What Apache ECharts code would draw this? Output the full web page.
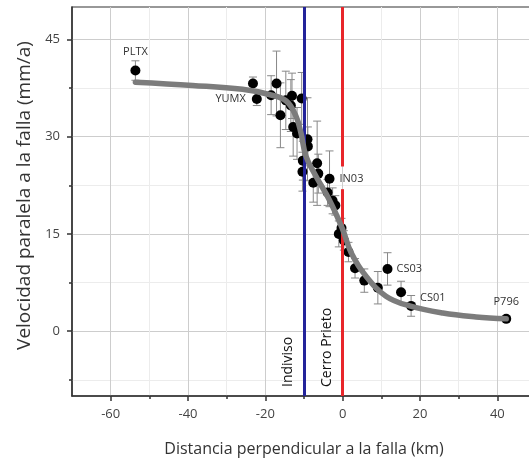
<!DOCTYPE html>
<html><head><meta charset="utf-8">
<script src="https://cdn.jsdelivr.net/npm/echarts@6/dist/echarts.min.js"></script>
<style>html,body{margin:0;padding:0;background:#fff}#c{width:529px;height:459px}</style>
</head><body><div id="c"></div>
<script>
// ---- data ----
const stationNames = ['PLTX','','YUMX','','','','','','','','','','','','','','','','','IN03','','','','','','','','','','','CS03','','CS01','P796'];
const stationX   = [-53.6,-23.2,-22.2,-18.5,-17.1,-16.1,-14.7,-13.1,-13.4,-10.6,-12.8,-11.8,-9.1,-9.0,-10.3,-10.4,-6.6,-6.3,-7.6,-3.4,-3.9,-2.6,-1.9,-0.3,-1.0,0.3,1.5,3.2,5.6,9.1,11.6,15.1,17.7,42.3];
const stationY   = [40.2,38.2,35.8,36.4,38.2,33.3,35.6,36.3,34.8,35.9,31.5,30.5,29.6,28.5,26.3,24.6,25.9,24.3,22.9,23.5,21.4,20.1,19.4,15.9,15.0,14.0,12.2,9.7,7.8,6.7,9.6,6.0,3.9,1.9];
const stationErr = [1.5,1.0,1.0,3.0,5.0,5.0,4.5,3.5,4.0,4.0,4.5,4.0,6.4,3.0,3.0,3.0,6.5,3.0,3.0,4.3,2.0,2.0,1.5,1.5,2.0,1.5,1.5,1.5,1.8,2.5,2.5,1.7,1.6,0.3];
const curveX = [-53.6,-38.8,-25.9,-19.0,-14.6,-12.1,-10.8,-9.5,-6.9,-3.4,0.0,2.2,6.0,11.2,17.3,25.9,34.5,42.3];
const curveY = [38.4,37.9,37.3,36.5,35.5,33.2,30.6,27.0,23.9,20.2,15.7,12.1,8.5,5.4,3.9,2.8,2.2,1.9];
const faultNames = ['Indiviso','Cerro Prieto'];
const faultX = [-10, 0];
const xMajorTicks = [-60,-40,-20,0,20,40];
const xMinorTicks = [-50,-30,-10,10,30];
const yMajorTicks = [0,15,30,45];
const yMinorTicks = [-7.5,7.5,22.5,37.5];
const xTitle = 'Distancia perpendicular a la falla (km)';
const yTitle = 'Velocidad paralela a la falla (mm/a)';

// ---- styles ----
const FONT = 'Open Sans';
const labelStyle = {
  PLTX: {position:'top', distance:8},
  YUMX: {position:'left', distance:6},
  IN03: {position:'right', distance:5},
  CS03: {position:'right', distance:4},
  CS01: {position:'right', distance:4, offset:[0,-8]},
  P796: {position:'top', distance:6}
};

const chart = echarts.init(document.getElementById('c'), null, {renderer:'canvas'});
const pts = stationX.map((x,i)=>{
  const n = stationNames[i];
  const d = {value:[x, stationY[i], stationErr[i]]};
  if (n) {
    d.label = Object.assign({show:true, formatter:n, color:'#333', fontSize:11, fontFamily:FONT}, labelStyle[n]);
  }
  return d;
});
const errs = stationX.map((x,i)=>[x, stationY[i], stationErr[i]]);
const curve = curveX.map((x,i)=>[x, curveY[i]]);

const baseX = {min:-70, max:50, type:'value', gridIndex:0};
const baseY = {min:-10, max:50, type:'value', gridIndex:0};
chart.setOption({
  animation:false,
  grid:{left:72, top:7, width:464, height:389, outerBoundsMode:'none', containLabel:false,
        show:true, borderColor:'#333', borderWidth:1.2},
  xAxis:[
    Object.assign({}, baseX, {position:'bottom',
      name:xTitle, nameLocation:'middle', nameGap:45,
      nameTextStyle:{fontFamily:FONT, fontSize:16, color:'#333'},
      axisLine:{show:true, onZero:false, lineStyle:{color:'#333', width:1.5}},
      axisTick:{show:true, inside:false, length:5, customValues:xMajorTicks, lineStyle:{color:'#333', width:1.5}},
      axisLabel:{customValues:xMajorTicks, margin:12, fontFamily:FONT, fontSize:13, color:'#444'},
      splitLine:{show:true, lineStyle:{color:'#cdcdcd', width:1}}
    }),
    Object.assign({}, baseX, {position:'bottom',
      axisLine:{show:false, onZero:false},
      axisTick:{show:true, inside:false, length:3, customValues:xMinorTicks, lineStyle:{color:'#333', width:1.5}},
      axisLabel:{show:false, customValues:xMinorTicks},
      splitLine:{show:true, lineStyle:{color:'#ececec', width:1}}
    })
  ],
  yAxis:[
    Object.assign({}, baseY, {position:'left',
      name:yTitle, nameLocation:'middle', nameGap:36,
      nameTextStyle:{fontFamily:FONT, fontSize:19, color:'#333', padding:[0,0,0,12]},
      axisLine:{show:true, onZero:false, lineStyle:{color:'#333', width:1.5}},
      axisTick:{show:true, inside:false, length:5, customValues:yMajorTicks, lineStyle:{color:'#333', width:1.5}},
      axisLabel:{customValues:yMajorTicks, margin:12, fontFamily:FONT, fontSize:13, color:'#444'},
      splitLine:{show:true, lineStyle:{color:'#cdcdcd', width:1}}
    }),
    Object.assign({}, baseY, {position:'left',
      axisLine:{show:false, onZero:false},
      axisTick:{show:true, inside:false, length:3, customValues:yMinorTicks, lineStyle:{color:'#333', width:1.5}},
      axisLabel:{show:false, customValues:yMinorTicks},
      splitLine:{show:true, lineStyle:{color:'#ececec', width:1}}
    })
  ],
  series:[
    {
      type:'line', data:[], z:2, silent:true,
      markLine:{
        silent:true, symbol:['none','none'],
        data:[
          [{coord:[faultX[0],-10], lineStyle:{color:'#23239a', width:3, type:'solid'},
            label:{show:true, formatter:faultNames[0], position:'insideStartTop', distance:9, color:'#111', fontFamily:FONT, fontSize:14}},
           {coord:[faultX[0],50]}],
          [{coord:[faultX[1],-10], lineStyle:{color:'#e8262a', width:3, type:'solid'},
            label:{show:true, formatter:faultNames[1], position:'insideStartTop', distance:9, color:'#111', fontFamily:FONT, fontSize:14}},
           {coord:[faultX[1],21.9]}],
          [{coord:[faultX[1],25.4], lineStyle:{color:'#e8262a', width:3, type:'solid'}, label:{show:false}},
           {coord:[faultX[1],50]}]
        ]
      }
    },
    {
      type:'custom', data:errs, z:3, silent:true,
      renderItem:function(params, api){
        const x = api.value(0), y = api.value(1), e = api.value(2);
        const t = api.coord([x, y+e]), b = api.coord([x, y-e]);
        const hw = 4, st = {stroke:'#888', lineWidth:1};
        return {type:'group', children:[
          {type:'line', shape:{x1:t[0],y1:t[1],x2:b[0],y2:b[1]}, style:st},
          {type:'line', shape:{x1:t[0]-hw,y1:t[1],x2:t[0]+hw,y2:t[1]}, style:st},
          {type:'line', shape:{x1:b[0]-hw,y1:b[1],x2:b[0]+hw,y2:b[1]}, style:st}
        ]};
      }
    },
    {
      type:'scatter', data:pts, z:4, symbolSize:10, itemStyle:{color:'#000', opacity:1}
    },
    {
      type:'line', data:curve, z:5, smooth:0.4, showSymbol:false, symbol:'none',
      lineStyle:{color:'#7c7c7c', width:5.5, cap:'round'}
    }
  ]
});
</script>
</body></html>
